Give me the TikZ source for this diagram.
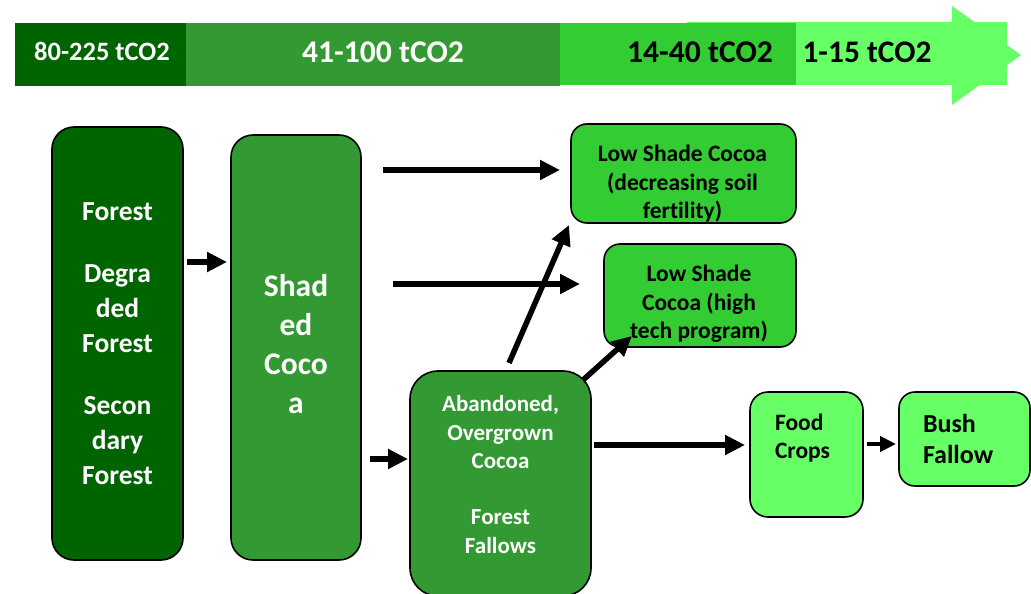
\documentclass[tikz,border=0pt]{standalone}
\usepackage{fontspec}
\setmainfont{Carlito}[Ligatures=NoCommon]
\usetikzlibrary{arrows.meta,calc}
\definecolor{forestgreen}{HTML}{006400}
\definecolor{midgreen}{HTML}{339933}
\definecolor{brightgreen}{HTML}{33CC33}
\definecolor{lightgreen}{HTML}{66FF66}
\begin{document}
\begin{tikzpicture}[x=1pt,y=-1pt,
  box/.style={draw=black, line width=1.6pt, rounded corners=#1, inner sep=0pt, outer sep=0pt},
  box/.default=16pt,
  label/.style={inner sep=0pt, outer sep=0pt},
  arr/.style={-{Triangle[length=20pt,width=19pt]}, line width=5.5pt, black},
  smallarr/.style={-{Triangle[length=16pt,width=15pt]}, line width=4.5pt, black}
]
\useasboundingbox (0,0) rectangle (1031,594);
\fill[white] (0,0) rectangle (1031,594);

% carbon stock scale along the top
\fill[lightgreen] (687,22) -- (952,22) -- (952,6) -- (1021,55) -- (952,105) -- (952,85) -- (687,85) -- cycle;
\fill[lightgreen] (796,22) rectangle (1007,85);
\fill[forestgreen] (15,23) rectangle (186,86);
\fill[midgreen] (186,23) rectangle (560,86);
\fill[brightgreen] (560,23) rectangle (796,85);
\node[label, anchor=base, text=white, font=\fontsize{26.5}{30}\selectfont\bfseries] (s1) at (102,60) {80-225 tCO2};
\node[label, anchor=base, text=white, font=\fontsize{31.6}{36}\selectfont\bfseries] (s2) at (383,63) {41-100 tCO2};
\node[label, anchor=base, text=black, font=\fontsize{31.6}{36}\selectfont\bfseries] (s3) at (700,63) {14-40 tCO2};
\node[label, anchor=base, text=black, font=\fontsize{31.4}{36}\selectfont\bfseries] (s4) at (867,63) {1-15 tCO2};

% land-use boxes
\node[box=22pt, fill=forestgreen, minimum width=131pt, minimum height=433pt,
      text=white, align=center, font=\fontsize{27.5}{35}\selectfont\bfseries] (forest) at (117.5,343.5)
  {Forest\\[27pt]Degra\\ded\\Forest\\[27pt]Secon\\dary\\Forest};
\node[box=22pt, fill=midgreen, minimum width=130pt, minimum height=425pt] (shaded) at (296,347.5) {};
\node[label, text=white, align=center, font=\fontsize{31.5}{39}\selectfont\bfseries] (shaded-t) at (296,344)
  {Shad\\ed\\Coco\\a};
\node[box=28pt, fill=midgreen, minimum width=181pt, minimum height=225pt] (aband) at (500.5,483.5) {};
\node[label, text=white, align=center, font=\fontsize{23}{28.3}\selectfont\bfseries] (aband-t) at (500.5,474.5)
  {Abandoned,\\Overgrown\\Cocoa\\[28.3pt]Forest\\Fallows};
\node[box=16pt, fill=brightgreen, minimum width=225pt, minimum height=99pt] (lsc1) at (683.5,173.5) {};
\node[label, align=center, font=\fontsize{23.5}{28.5}\selectfont\bfseries] (lsc1-t) at (682.5,184)
  {Low Shade Cocoa\\(decreasing soil\\fertility)};
\node[box=16pt, fill=brightgreen, minimum width=192pt, minimum height=103pt] (lsc2) at (700,295.5) {};
\node[label, align=center, font=\fontsize{23.5}{28.5}\selectfont\bfseries] (lsc2-t) at (699,304)
  {Low Shade\\Cocoa (high\\tech program)};
\node[box=18pt, fill=lightgreen, minimum width=113pt, minimum height=125pt] (food) at (806.5,454.5) {};
\node[label, anchor=west, align=left, font=\fontsize{23.5}{28}\selectfont\bfseries] (food-t) at (775,438)
  {Food\\Crops};
\node[box=16pt, fill=lightgreen, minimum width=131pt, minimum height=94pt] (bush) at (964.5,439) {};
\node[label, anchor=west, align=left, font=\fontsize{26}{31}\selectfont\bfseries] (bush-t) at (923,438.5)
  {Bush\\Fallow};

% transitions
\draw[arr] ($(forest.east)+(4,-81.5)$) -- ($(shaded.west)+(-4,-85.5)$);
\draw[arr] ($(shaded.east)+(22,-177.5)$) -- ($(lsc1.west)+(-11,-3.5)$);
\draw[arr] ($(shaded.east)+(32,-63.5)$) -- ($(lsc2.west)+(-24,-11.5)$);
\draw[arr] ($(shaded.east)+(9,111.5)$) -- ($(aband.west)+(-2,-24.5)$);
\draw[arr] ($(aband.north)+(8.5,-8)$) -- ($(lsc1.south west)+(-2,2)$);
\draw[arr] ($(aband.north east)+(-8,9)$) -- ($(lsc2.south west)+(28,-11)$);
\draw[arr] ($(aband.east)+(3,-38.5)$) -- ($(food.west)+(-5,-9.5)$);
\draw[smallarr] ($(food.east)+(4,-10.5)$) -- ($(bush.west)+(-3,5)$);
\end{tikzpicture}
\end{document}
